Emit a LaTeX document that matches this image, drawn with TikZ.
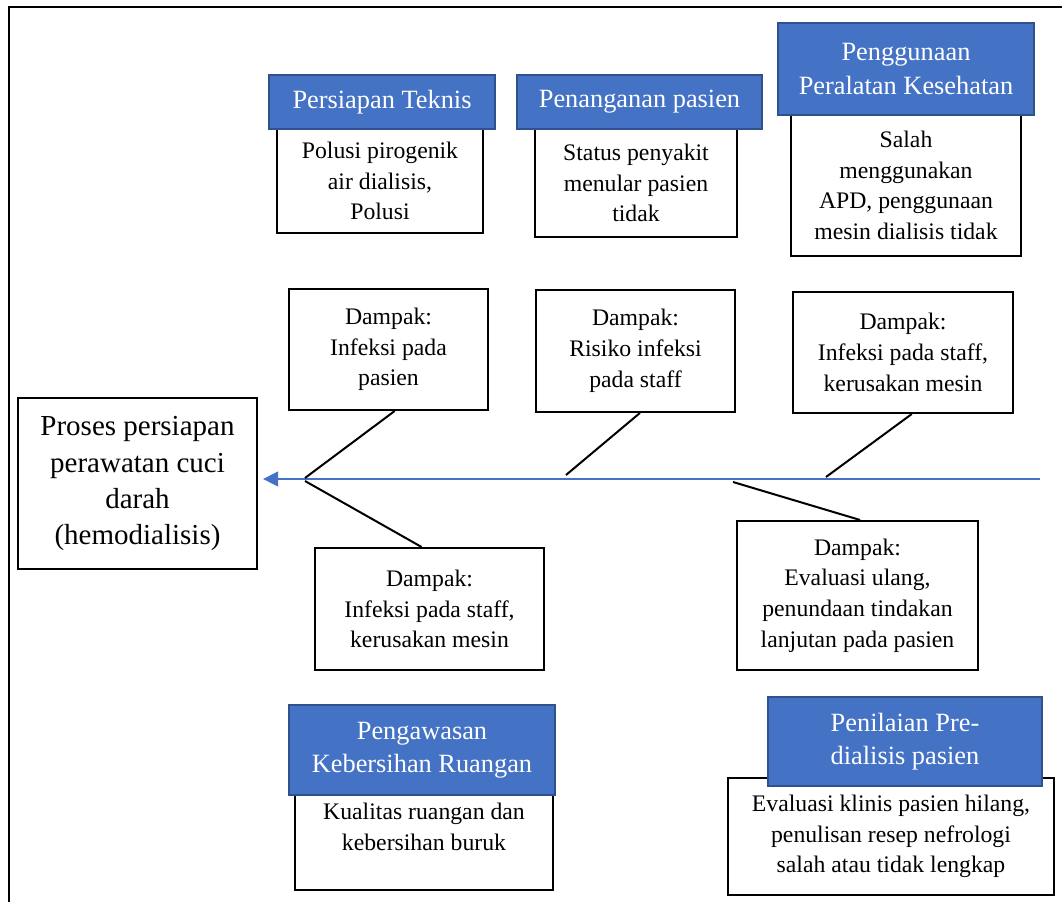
\documentclass[tikz,border=0pt]{standalone}
\usepackage{fontspec}
\setmainfont{Liberation Serif}
\usetikzlibrary{arrows.meta}
\definecolor{HeadBlue}{RGB}{68,114,196}
\definecolor{HeadEdge}{RGB}{47,82,143}

\begin{document}
\begin{tikzpicture}[
    x=0.2mm, y=-0.2mm,
    every node/.style={align=center, inner sep=0pt},
    headbox/.style={draw=HeadEdge, fill=HeadBlue, line width=0.4mm, text=white, font=\fontsize{15}{19}\selectfont},
    causebox/.style={draw=black, fill=white, line width=0.4mm, font=\fontsize{13.5}{17.5}\selectfont},
    effectbox/.style={draw=black, fill=white, line width=0.4mm, font=\fontsize{16.5}{20.5}\selectfont},
    bone/.style={black, line width=0.4mm},
    spine/.style={HeadBlue, line width=0.45mm, -{Triangle[length=3mm, width=2.9mm]}}
]
\useasboundingbox (0,0) rectangle (1062,902);
\draw[line width=0.5mm] (1062,7) -- (9,7) -- (9,902);

% head and spine
\node[effectbox, minimum width=47.8mm, minimum height=34.2mm] (proses) at (137.5,483.5) {Proses persiapan\\perawatan cuci\\darah\\(hemodialisis)};
\coordinate (tail) at (1040,479);
\coordinate (head) at (263,479);
\draw[spine] (tail) -- (head);

% upper causes
\node[causebox, minimum width=41.2mm, minimum height=20.8mm] (teknisC) at (380,181) {Polusi pirogenik\\air dialisis,\\Polusi};
\node[causebox, minimum width=40.4mm, minimum height=21.6mm] (pasienC) at (636,183) {Status penyakit\\menular pasien\\tidak};
\node[causebox, minimum width=46mm, minimum height=28.2mm] (alatC) at (906,185.5) {Salah\\menggunakan\\APD, penggunaan\\mesin dialisis tidak};
\node[headbox, minimum width=45.2mm, minimum height=10.8mm] (teknis) at (382,102) {Persiapan Teknis};
\node[headbox, minimum width=49mm, minimum height=10.8mm] (pasien) at (639.5,102) {Penanganan pasien};
\node[headbox, minimum width=51.2mm, minimum height=18.4mm] (alat) at (906,69) {Penggunaan\\Peralatan Kesehatan};

% impacts
\node[causebox, minimum width=39.8mm, minimum height=24.2mm] (dampakA) at (388.5,349.5) {Dampak:\\Infeksi pada\\pasien};
\node[causebox, minimum width=39.8mm, minimum height=24.4mm] (dampakB) at (635.5,351) {Dampak:\\Risiko infeksi\\pada staff};
\node[causebox, minimum width=44mm, minimum height=24.2mm] (dampakC) at (903,352.5) {Dampak:\\Infeksi pada staff,\\kerusakan mesin};
\node[causebox, minimum width=45.8mm, minimum height=24.4mm] (dampakD) at (429.5,609) {Dampak:\\Infeksi pada staff,\\kerusakan mesin};
\node[causebox, minimum width=48.2mm, minimum height=29.8mm] (dampakE) at (857.5,595.5) {Dampak:\\Evaluasi ulang,\\penundaan tindakan\\lanjutan pada pasien};

% bones
\coordinate (jA) at (305,478);
\coordinate (jB) at (566,475);
\coordinate (jC) at (826,477);
\coordinate (jD) at (305,481);
\coordinate (jE) at (733,482);
\draw[bone] ([xshift=3.5]dampakA.south) -- (jA);
\draw[bone] ([xshift=2.5]dampakB.south) -- (jB);
\draw[bone] ([xshift=5]dampakC.south) -- (jC);
\draw[bone] (jD) -- ([xshift=-4.5]dampakD.north);
\draw[bone] (jE) -- ([xshift=1.5]dampakE.north);

% lower causes
\node[causebox, minimum width=51.6mm, minimum height=19mm] (ruangC) at (424,842.5) {Kualitas ruangan dan\\kebersihan buruk\\~};
\node[causebox, minimum width=65.2mm, minimum height=23.4mm] (nilaiC) at (891,836.5) {Evaluasi klinis pasien hilang,\\penulisan resep nefrologi\\salah atau tidak lengkap};
\node[headbox, minimum width=53.2mm, minimum height=18mm] (ruang) at (422,750) {Pengawasan\\Kebersihan Ruangan};
\node[headbox, minimum width=54.8mm, minimum height=17.8mm] (nilai) at (905,741.5) {Penilaian Pre-\\dialisis pasien};
\end{tikzpicture}
\end{document}
